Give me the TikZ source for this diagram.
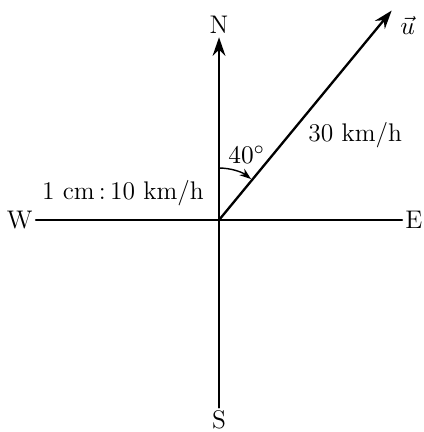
\documentclass[tikz,border=0pt]{standalone}
\usetikzlibrary{arrows.meta}
\begin{document}
\begin{tikzpicture}[x=1.35cm,y=1.35cm,line cap=round,line join=round,>={Stealth[length=8pt,width=5.5pt]},line width=1pt,font=\fontsize{11}{13}\selectfont]
			\useasboundingbox (-2.461,-2.382) rectangle (2.292,2.472);
			\tikzset{pt/.style={inner sep=1pt}}
			\coordinate (O) at (0,0);
			\coordinate (U) at (50.5:3.05);
			\node[pt] (N) at (0,2.19) {N};
			\node[pt] (S) at (0,-2.25) {S};
			\node[pt] (W) at (-2.24,0) {W};
			\node[pt] (E) at (2.19,0) {E};
			\draw (W) -- (E);
			\draw[->] (S) -- (N);
			\draw[->] (O) -- (U);
			\node (u) at (2.12,2.19) {$\vec{u}$};
			\draw[->,line width=0.6pt,>={Stealth[length=5pt,width=3.5pt]}] (O) ++(90:0.584) arc (90:52:0.584);
			\node (ang) at (0.31,0.73) {$40^\circ$};
			\node (speed) at (1.53,0.955) {30 km/h};
			\node (scl) at (-1.08,0.30) {1 cm\,:\,10 km/h};
		\end{tikzpicture}
\end{document}
